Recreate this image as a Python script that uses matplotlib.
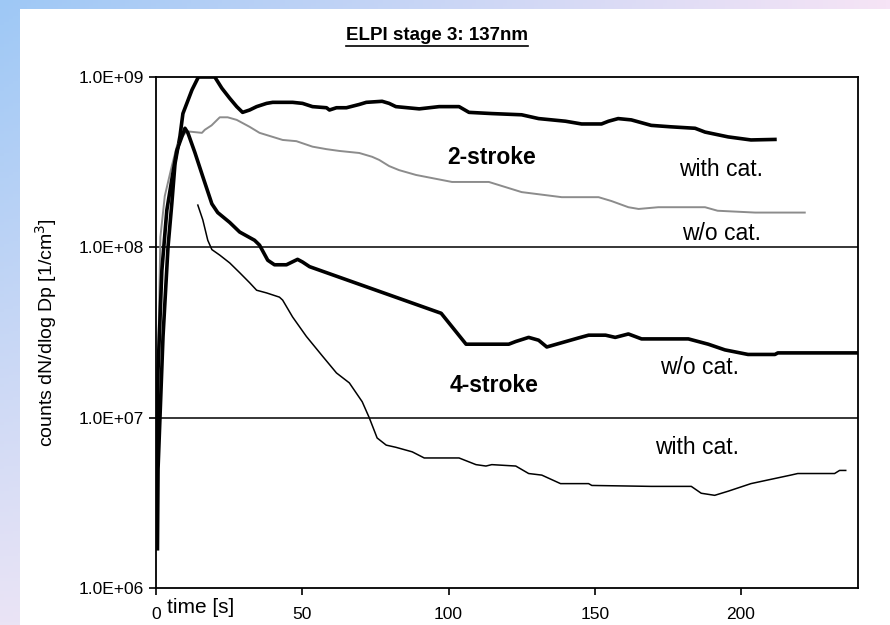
import numpy as np
import matplotlib
matplotlib.use("Agg")
import matplotlib.pyplot as plt
from matplotlib.patches import Rectangle
from matplotlib.lines import Line2D
from matplotlib.ticker import FuncFormatter, NullLocator

plt.rcParams['font.family'] = ['Liberation Sans', 'DejaVu Sans']

# 2-stroke, with catalyst (thick black)
t_2s_cat = [0.5, 0.7, 2.4, 4.1, 5.4, 6.5, 8.2, 9.2, 12.3, 14.5, 20.1, 22.5, 25.2, 27.6, 29.6,
            32, 34.4, 37.8, 39.9, 46.7, 50.1, 53.5, 58.3, 59.3, 61.7, 65.1, 69.5, 71.9, 77.3,
            79.7, 82, 90, 96.8, 103.6, 107, 114.8, 125, 130.8, 140, 145.5, 152.3, 154.7, 158,
            162.5, 169.3, 176, 184.3, 187.7, 195.6, 203.4, 211.6]
n_2s_cat = [1.7e6, 5e6, 3e7, 1e8, 1.8e8, 3.1e8, 4.5e8, 6.1e8, 8.4e8, 1e9, 1e9, 8.6e8, 7.5e8,
            6.7e8, 6.2e8, 6.4e8, 6.7e8, 7.0e8, 7.1e8, 7.1e8, 7.0e8, 6.7e8, 6.6e8, 6.4e8, 6.6e8,
            6.6e8, 6.9e8, 7.1e8, 7.2e8, 7.0e8, 6.7e8, 6.5e8, 6.7e8, 6.7e8, 6.2e8, 6.1e8, 6.0e8,
            5.7e8, 5.5e8, 5.3e8, 5.3e8, 5.5e8, 5.7e8, 5.6e8, 5.2e8, 5.1e8, 5.0e8, 4.75e8, 4.45e8,
            4.27e8, 4.3e8]

# 2-stroke, without catalyst (grey)
t_2s_wo = [0, 0.7, 1.5, 3, 5.4, 7.1, 8.9, 10.5, 15.7, 16.7, 19, 21.8, 24.5, 27.6, 32, 35.4,
           39.9, 43.3, 48, 53.5, 58.3, 62.7, 69.5, 73.9, 76.3, 79.7, 83.1, 88.9, 101.2, 113.8,
           125, 138.7, 151.3, 155.7, 161.5, 165, 171.7, 187.7, 192, 204.8, 221.8]
n_2s_wo = [3.5e6, 2e7, 1.15e8, 2e8, 3e8, 3.9e8, 4.45e8, 4.8e8, 4.7e8, 4.9e8, 5.2e8, 5.8e8,
           5.8e8, 5.6e8, 5.1e8, 4.7e8, 4.45e8, 4.27e8, 4.2e8, 3.9e8, 3.77e8, 3.68e8, 3.58e8,
           3.4e8, 3.26e8, 3.0e8, 2.84e8, 2.66e8, 2.42e8, 2.42e8, 2.11e8, 1.97e8, 1.97e8, 1.87e8,
           1.72e8, 1.68e8, 1.72e8, 1.72e8, 1.64e8, 1.6e8, 1.6e8]

# 4-stroke, without catalyst (thick black)
t_4s_wo = [0, 0.7, 2, 3.7, 5.4, 7.1, 9.9, 10.9, 13.3, 16, 19.1, 21.1, 25.2, 28.6, 33.7, 35.4,
           38.2, 40.5, 44.6, 48.4, 50.1, 52.5, 97.5, 106, 120.6, 123, 127.4, 130.8, 133.6,
           144.5, 147.9, 153.7, 157, 161.5, 166, 182, 188.8, 194.5, 202.4, 211.6, 212.6, 240]
n_4s_wo = [3.4e6, 1.9e7, 7.3e7, 1.65e8, 2.5e8, 3.7e8, 5e8, 4.7e8, 3.6e8, 2.6e8, 1.8e8, 1.6e8,
           1.4e8, 1.23e8, 1.1e8, 1.03e8, 8.4e7, 7.9e7, 7.9e7, 8.5e7, 8.2e7, 7.7e7, 4.1e7, 2.7e7,
           2.7e7, 2.8e7, 2.96e7, 2.85e7, 2.6e7, 2.94e7, 3.05e7, 3.05e7, 2.96e7, 3.1e7, 2.9e7,
           2.9e7, 2.7e7, 2.5e7, 2.35e7, 2.35e7, 2.4e7, 2.4e7]

# 4-stroke, with catalyst (thin black)
t_4s_cat = [14.3, 16, 17.7, 19.1, 21.8, 25.2, 28.6, 32, 34.4, 37.8, 42.2, 43.3, 46.7, 51.4,
            56.9, 61.7, 66.1, 70.5, 72.9, 75.6, 78.7, 82, 87.6, 91.7, 103.6, 109.4, 112.8,
            114.8, 123, 127.4, 131.9, 138.3, 147.9, 149, 169.3, 183, 186.4, 191, 195.6, 203.4,
            209, 217, 219.4, 232, 233.7, 235.8]
n_4s_cat = [1.77e8, 1.45e8, 1.1e8, 9.7e7, 9e7, 8.1e7, 7.1e7, 6.2e7, 5.6e7, 5.4e7, 5.1e7, 4.9e7,
            3.9e7, 3.0e7, 2.3e7, 1.83e7, 1.6e7, 1.24e7, 1e7, 7.6e6, 6.9e6, 6.7e6, 6.3e6, 5.8e6,
            5.8e6, 5.3e6, 5.2e6, 5.3e6, 5.2e6, 4.7e6, 4.6e6, 4.1e6, 4.1e6, 4.0e6, 3.95e6,
            3.95e6, 3.6e6, 3.5e6, 3.7e6, 4.1e6, 4.3e6, 4.6e6, 4.7e6, 4.7e6, 4.9e6, 4.9e6]

x_ticks = [0, 50, 100, 150, 200]
y_ticks = [1e6, 1e7, 1e8, 1e9]

# annotation texts and where they sit (pixels)
labels = [('2-stroke', 492, 158, 'bold'), ('with cat.', 721, 169, 'normal'),
          ('w/o cat.', 722, 233, 'normal'), ('w/o cat.', 700, 367, 'normal'),
          ('4-stroke', 494, 385, 'bold'), ('with cat.', 697, 447, 'normal')]

W, H = 890, 625
fig = plt.figure(figsize=(W / 100, H / 100), dpi=100)

# gradient background behind the white slide area
bg = fig.add_axes([0, 0, 1, 1], zorder=-10)
bg.axis('off')
X, Y = np.meshgrid(np.linspace(0, 1, 200), np.linspace(0, 1, 200))
tl = np.array([158, 200, 245]) / 255
tr = np.array([246, 228, 246]) / 255
bl = np.array([234, 228, 245]) / 255
br = np.array([246, 230, 246]) / 255
img = (tl * ((1 - X) * (1 - Y))[..., None] + tr * (X * (1 - Y))[..., None]
       + bl * ((1 - X) * Y)[..., None] + br * (X * Y)[..., None])
bg.imshow(img, extent=[0, 1, 0, 1], aspect='auto')
bg.set_xlim(0, 1)
bg.set_ylim(0, 1)
fig.add_artist(Rectangle((20 / W, 0), 1 - 20 / W, 1 - 9 / H, transform=fig.transFigure,
                         facecolor='white', edgecolor='none', zorder=-5))

ax = fig.add_axes([156 / W, 1 - 588 / H, (858 - 156) / W, (588 - 77) / H])
ax.set_facecolor('white')

ax.plot(t_2s_cat, n_2s_cat, color='black', lw=2.6, solid_joinstyle='round')
ax.plot(t_2s_wo, n_2s_wo, color='#8c8c8c', lw=1.4)
ax.plot(t_4s_wo, n_4s_wo, color='black', lw=2.6, solid_joinstyle='round')
ax.plot(t_4s_cat, n_4s_cat, color='black', lw=1.1)

ax.set_yscale('log')
ax.set_xlim(0, 240)
ax.set_ylim(1e6, 1e9)
ax.set_xticks(x_ticks)
ax.set_yticks(y_ticks)
ax.yaxis.set_minor_locator(NullLocator())
ax.yaxis.set_major_formatter(FuncFormatter(lambda v, p: '1.0E+%02d' % round(np.log10(v))))
ax.tick_params(axis='both', direction='out', length=5, width=1.2, labelsize=12.5, colors='black')
ax.tick_params(axis='x', pad=9)
ax.tick_params(axis='y', pad=4)
for s in ax.spines.values():
    s.set_linewidth(1.3)
    s.set_color('black')
for v in y_ticks[1:3]:
    ax.axhline(v, color='black', lw=1.1, zorder=1)

ax.set_ylabel('counts dN/dlog Dp [1/cm$^3$]', fontsize=14, labelpad=14)
ax.text(0.016, -0.039, 'time [s]', transform=ax.transAxes, fontsize=15, ha='left', va='center')

for txt, px, py, fw in labels:
    fig.text(px / W, 1 - py / H, txt, fontsize=16.5, fontweight=fw, ha='center', va='center')

title = fig.text(437 / W, 1 - 36 / H, 'ELPI stage 3: 137nm', fontsize=13.5, fontweight='bold',
                 ha='center', va='center')
fig.canvas.draw()
bb = title.get_window_extent()
fig.add_artist(Line2D([bb.x0, bb.x1], [bb.y0 - 1, bb.y0 - 1], transform=None,
                      color='black', lw=1.2))

fig.savefig('out.png', dpi=100)
